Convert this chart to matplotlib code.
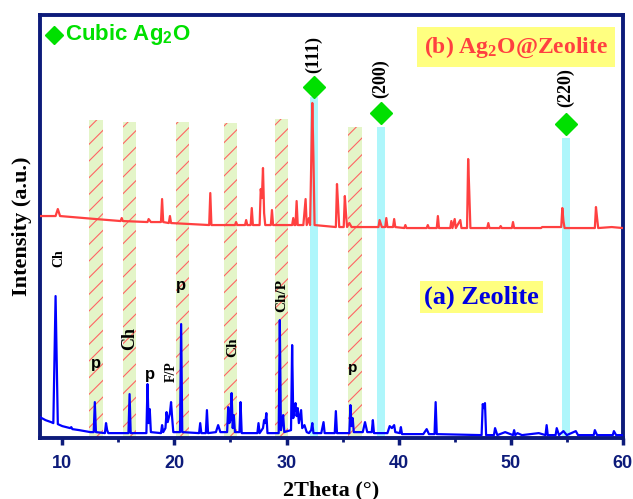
import matplotlib.pyplot as plt

# Zeolite (blue) trace: 2theta, intensity (a.u.)
zeo_x = [8.0, 8.5, 9.0, 9.2, 9.4, 9.6, 10.0, 10.7, 10.8, 10.9, 11.5, 12.5, 12.8, 12.9, 13.0,
         13.8, 13.9, 14.0, 14.1, 15.0, 15.9, 16.0, 16.1, 17.0, 17.5, 17.6, 17.7, 17.8, 17.9,
         18.8, 18.9, 19.0, 19.2, 19.3, 19.4, 19.6, 19.7, 19.8, 19.9, 20.5, 20.6, 20.7,
         22.2, 22.3, 22.4, 22.8, 22.9, 23.0, 23.7, 23.9, 24.1, 24.7, 24.8, 24.9, 25.0, 25.1,
         25.2, 25.3, 25.4, 25.8, 25.9, 26.0, 27.4, 27.5, 27.6, 27.9, 28.0, 28.1, 28.2, 28.3,
         29.3, 29.4, 29.5, 29.6, 29.7, 29.8, 30.4, 30.5, 30.6, 30.7, 30.8, 30.9, 31.0, 31.1,
         31.3, 31.4, 31.6, 31.8, 32.0, 32.2, 32.3, 32.4, 33.1, 33.3, 33.4, 34.3, 34.4, 34.5,
         35.6, 35.7, 35.8, 35.9, 36.0, 36.8, 37.0, 37.2, 37.6, 37.7, 37.8, 39.0, 39.2, 39.4,
         39.6, 39.7, 40.1, 40.2, 40.3, 42.2, 42.5, 42.7, 43.2, 43.3, 43.4, 47.4, 47.5, 47.6,
         47.7, 47.8, 48.5, 48.6, 48.8, 49.5, 50.2, 50.3, 50.4, 50.6, 51.0, 52.5, 53.1, 53.2,
         53.3, 54.0, 54.1, 54.3, 54.7, 55.0, 55.8, 56.0, 57.4, 57.5, 57.7, 59.1, 59.2, 59.4, 60.0]
zeo_y = [21, 18, 16, 15, 142, 14, 12, 10, 11, 9, 8, 6, 6, 36, 6,
         5, 15, 8, 5, 5, 5, 44, 5, 5, 5, 54, 15, 29, 6,
         5, 13, 6, 10, 26, 16, 25, 36, 20, 6, 6, 114, 6,
         5, 15, 5, 5, 28, 5, 6, 13, 6, 6, 31, 15, 18, 45,
         10, 23, 6, 6, 36, 5, 5, 15, 5, 10, 18, 15, 25, 5,
         5, 118, 8, 15, 23, 6, 8, 93, 20, 30, 35, 22, 30, 15,
         28, 10, 13, 6, 5, 8, 15, 5, 5, 16, 5, 5, 27, 5,
         5, 33, 12, 20, 6, 6, 16, 6, 6, 18, 5, 5, 12, 10,
         13, 6, 5, 11, 4, 4, 9, 4, 4, 36, 4, 3, 34, 30,
         35, 3, 3, 10, 3, 6, 3, 8, 3, 5, 3, 5, 3, 13,
         3, 3, 10, 3, 7, 3, 7, 3, 3, 8, 3, 3, 7, 3, 3]

# Ag2O@Zeolite (red) trace
ag_x = [8.0, 9.4, 9.6, 9.8, 13.0, 15.2, 15.3, 15.4, 17.6, 17.7, 17.9, 18.8, 18.9, 19.0,
        19.5, 19.6, 19.7, 23.1, 23.2, 23.3, 25.4, 25.5, 25.6, 26.3, 26.4, 26.5, 26.8, 26.9,
        27.0, 27.6, 27.7, 27.8, 27.9, 28.0, 28.1, 28.6, 28.7, 28.8, 30.5, 30.6, 30.7, 30.8,
        30.9, 31.0, 31.5, 31.7, 31.8, 32.0, 32.1, 32.3, 32.4, 32.5, 34.4, 34.5, 34.6, 34.7,
        35.1, 35.2, 35.3, 35.4, 35.6, 35.8, 38.2, 38.3, 38.5, 38.8, 38.9, 39.0, 39.5, 39.6,
        39.7, 40.5, 40.6, 40.7, 42.5, 42.6, 42.7, 43.4, 43.5, 43.6, 44.6, 44.7, 44.8, 45.0,
        45.1, 45.5, 45.6, 46.1, 46.2, 46.3, 46.4, 47.9, 48.0, 48.1, 49.0, 49.1, 49.2, 50.1,
        50.2, 50.3, 52.7, 52.8, 54.5, 54.6, 54.7, 54.8, 57.5, 57.6, 57.7, 57.8, 59.0, 60.0]
ag_y = [222, 222, 229, 222, 219, 217, 220, 217, 216, 219, 216, 216, 239, 216,
        215, 222, 215, 213, 245, 213, 213, 216, 213, 213, 218, 213, 213, 230,
        213, 213, 249, 240, 270, 225, 213, 213, 228, 213, 213, 220, 213, 213,
        237, 213, 213, 239, 213, 220, 213, 335, 280, 213, 211, 254, 233, 211,
        211, 242, 225, 211, 215, 211, 211, 218, 211, 211, 220, 211, 211, 219,
        211, 210, 213, 210, 210, 213, 210, 210, 222, 210, 210, 217, 210, 219,
        210, 218, 210, 210, 279, 246, 210, 210, 215, 210, 210, 212, 210, 210,
        216, 210, 210, 211, 211, 230, 217, 210, 210, 231, 220, 210, 211, 210]

# zeolite phase bands (hatched) and Ag2O reflections
band_pos = [13.0, 16.0, 20.7, 25.0, 29.55, 36.1]
band_top = [318, 316, 316, 315, 319, 311]
ag2o_pos = [32.45, 38.4, 54.9]
ag2o_top = [341, 311, 300]
ag2o_mark = [351, 325, 314]
ag2o_hkl = ['(111)', '(200)', '(220)']
ag2o_lab_y = [383, 359, 350]

# phase annotations: text, x, y, rotation, font, size
notes = [('Ch', 9.7, 180, 90, 'serif', 10),
         ('p', 13.0, 75, 0, 'sans', 12),
         ('Ch', 16.0, 100, 90, 'serif', 13),
         ('p', 17.8, 64, 0, 'sans', 12),
         ('F/P', 19.7, 66, 90, 'serif', 10),
         ('p', 20.6, 153, 0, 'sans', 12),
         ('Ch', 25.2, 91, 90, 'serif', 11),
         ('Ch/P', 29.6, 143, 90, 'serif', 11),
         ('p', 35.9, 70, 0, 'sans', 11)]

navy = '#0d1b7a'
green = '#00e000'
serif = 'Liberation Serif'
sans = 'Liberation Sans'

plt.rcParams['mathtext.default'] = 'regular'
plt.rcParams['hatch.linewidth'] = 0.8

fig = plt.figure(figsize=(6.33, 4.99), dpi=100)
ax = fig.add_axes([0.063, 0.122, 0.921, 0.848])

for c, t in zip(band_pos, band_top):
    ax.fill_between([c - 0.6, c + 0.6], 0, t, facecolor='#e4f5c8',
                    edgecolor='#ff6464', hatch='//', linewidth=0, zorder=1)
for c, t in zip(ag2o_pos, ag2o_top):
    ax.fill_between([c - 0.35, c + 0.35], 0, t, facecolor='#aef6fb',
                    linewidth=0, zorder=1)

ax.plot(ag_x, ag_y, color='#ff4040', lw=1.6, zorder=3)
ax.plot(zeo_x, zeo_y, color='#0000ff', lw=1.6, zorder=3)

ax.plot(ag2o_pos, ag2o_mark, 'D', color=green, ms=11, zorder=4, clip_on=False)
for c, lab, ly in zip(ag2o_pos, ag2o_hkl, ag2o_lab_y):
    ax.text(c, ly, lab, rotation=90, ha='center', va='center',
            fontsize=13, fontweight='bold', family=serif)

for txt, x, y, rot, f, fs in notes:
    ax.text(x, y, txt, rotation=rot, ha='center', va='center', fontsize=fs,
            fontweight='bold', family=serif if f == 'serif' else sans, zorder=5)

ax.plot([9.3], [403], 'D', color=green, ms=9)
ax.text(10.2, 403, 'Cubic Ag$_2$O', color=green, fontsize=16, fontweight='bold',
        family=sans, va='center')

ax.text(50.5, 391, '(b) Ag$_2$O@Zeolite', color='#ff4040', fontsize=17,
        fontweight='bold', family=serif, ha='center', va='center',
        bbox=dict(boxstyle='square,pad=0.3', fc='#ffff80', ec='none'))
ax.text(47.4, 141, '(a) Zeolite', color='#0000e0', fontsize=19,
        fontweight='bold', family=serif, ha='center', va='center',
        bbox=dict(boxstyle='square,pad=0.15', fc='#ffff80', ec='none'))

ax.set_xlim(8, 60)
ax.set_ylim(0, 423)
ax.set_yticks([])
ax.set_xticks([10, 20, 30, 40, 50, 60])
ax.set_xticks([15, 25, 35, 45, 55], minor=True)
ax.tick_params(axis='x', which='major', length=5, width=2.5, color=navy,
               labelcolor=navy, labelsize=13, pad=7)
ax.tick_params(axis='x', which='minor', length=3, width=2, color=navy)
for lab in ax.get_xticklabels():
    lab.set_fontweight('bold')
    lab.set_family(sans)
for s in ax.spines.values():
    s.set_color(navy)
    s.set_linewidth(2.8)

ax.set_xlabel('2Theta (°)', fontsize=16, fontweight='bold', family=serif, labelpad=6)
ax.set_ylabel('Intensity (a.u.)', fontsize=16, fontweight='bold', family=serif, labelpad=6)

fig.savefig('out.png', dpi=100)
